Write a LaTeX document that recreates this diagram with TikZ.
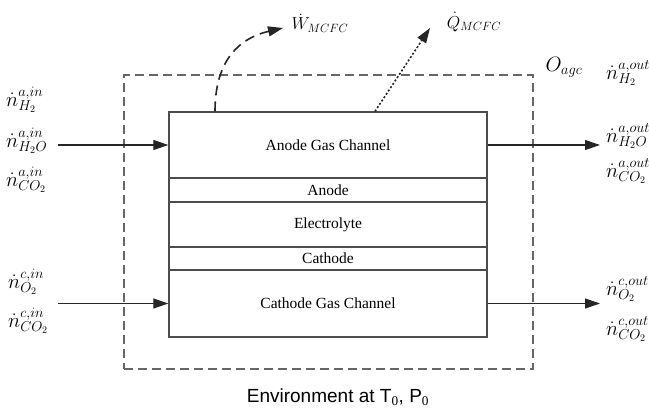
\documentclass[tikz,border=0pt]{standalone}
\usepackage{fontspec}
\setmainfont{Liberation Serif}
\newfontfamily\envfont{Liberation Sans}
\usetikzlibrary{arrows.meta}
\begin{document}
\begin{tikzpicture}[x=1pt,y=-1pt,
  layer/.style={draw=black!70,line width=1.3pt,minimum width=318pt,inner sep=0pt,font=\fontsize{15.5}{18}\selectfont},
  flow/.style={draw=black!85,line width=1.1pt,-{Triangle[length=15pt,width=10pt]}},
  flux/.style={anchor=west,inner sep=0pt,font=\fontsize{20}{22}\selectfont},
  rate/.style={inner sep=0pt,font=\fontsize{17}{20}\selectfont}]
\useasboundingbox (0,0) rectangle (649,409);

% control volume
\node[draw=black!60,line width=1.8pt,dash pattern=on 9pt off 5pt,minimum width=409pt,minimum height=294pt] (cv) at (328.5,222) {};
\node[rate,font=\fontsize{21}{24}\selectfont] (oagc) at (564,67) {$O_{agc}$};

% cell layers
\node[layer,minimum height=66pt] (agc) at (328,145) {Anode Gas Channel};
\node[layer,minimum height=24pt] (an) at (328,190) {Anode};
\node[layer,minimum height=45pt] (el) at (328,224.5) {Electrolyte};
\node[layer,minimum height=23pt] (ca) at (328,258.5) {Cathode};
\node[layer,minimum height=67pt] (cgc) at (328,303.5) {Cathode Gas Channel};

% anode side streams
\node[flux] (ah2in) at (6,100) {$\dot n^{a,in}_{H_2}$};
\node[flux] (ah2oin) at (6,141) {$\dot n^{a,in}_{H_2O}$};
\node[flux] (aco2in) at (6,180) {$\dot n^{a,in}_{CO_2}$};
\node[flux] (ah2out) at (606,73) {$\dot n^{a,out}_{H_2}$};
\node[flux] (ah2oout) at (606,136) {$\dot n^{a,out}_{H_2O}$};
\node[flux] (aco2out) at (606,171) {$\dot n^{a,out}_{CO_2}$};
\coordinate (ain) at (58,145);
\coordinate (aout) at (600,145);
\draw[flow] (ain) -- (agc.west);
\draw[flow] (agc.east) -- (aout);

% cathode side streams
\node[flux] (co2in) at (8,282) {$\dot n^{c,in}_{O_2}$};
\node[flux] (cco2in) at (8,321) {$\dot n^{c,in}_{CO_2}$};
\node[flux] (co2out) at (606,289) {$\dot n^{c,out}_{O_2}$};
\node[flux] (cco2out) at (606,329) {$\dot n^{c,out}_{CO_2}$};
\coordinate (cin) at (58,303.5);
\coordinate (cout) at (600,303.5);
\draw[flow] (cin) -- (cgc.west);
\draw[flow] (cgc.east) -- (cout);

% work and heat
\node[rate] (wdot) at (320,23) {$\dot W_{MCFC}$};
\node[rate] (qdot) at (474,22) {$\dot Q_{MCFC}$};
\coordinate (wtip) at (283,28);
\coordinate (qtip) at (430,28);
\draw[flow,line width=1.6pt,dash pattern=on 10pt off 6pt] ([xshift=-113pt]agc.north) .. controls +(0,-52) and +(-43,10) .. (wtip);
\draw[flow,line width=1.6pt,dash pattern=on 2pt off 2pt] ([xshift=47pt]agc.north) -- (qtip);

\node[font=\envfont\fontsize{19}{22}\selectfont] (env) at (338,397) {Environment at T$_\mathrm{0}$, P$_\mathrm{0}$};
\end{tikzpicture}
\end{document}
